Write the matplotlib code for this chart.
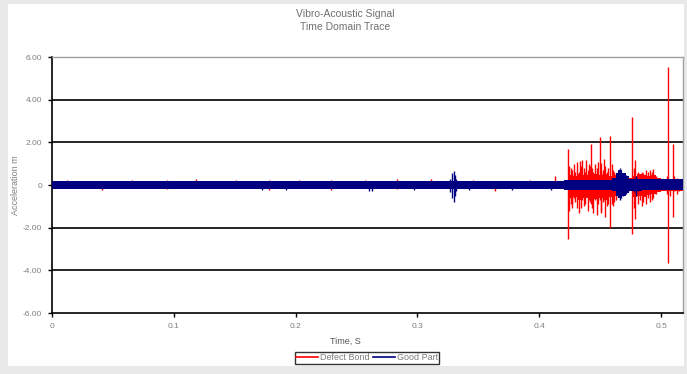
import matplotlib
matplotlib.use("Agg")
import matplotlib.pyplot as plt
from matplotlib.patches import Rectangle

plt.rcParams["font.family"] = ["Liberation Sans", "DejaVu Sans"]

# ---- data (time in s, acceleration) ----
# dense noise floor as step envelopes: edges, upper, lower
good_band_t = [0.0, 0.42, 0.46, 0.463, 0.465, 0.468, 0.471, 0.474, 0.476,
               0.484, 0.518]
good_band_hi = [0.17, 0.22, 0.35, 0.55, 0.68, 0.55, 0.4, 0.3, 0.28, 0.26]
good_band_lo = [-0.17, -0.22, -0.3, -0.5, -0.62, -0.5, -0.38, -0.3, -0.28,
                -0.24]

defect_band_t = [0.0, 0.4236, 0.428, 0.432, 0.436, 0.44, 0.444, 0.448, 0.452,
                 0.456, 0.46, 0.464, 0.468, 0.472, 0.476, 0.48, 0.484, 0.488,
                 0.492, 0.496, 0.5, 0.504, 0.508, 0.512, 0.518]
defect_band_hi = [0.12, 0.45, 0.4, 0.5, 0.45, 0.45, 0.5, 0.45, 0.5, 0.4, 0.45,
                  0.35, 0.3, 0.35, 0.4, 0.5, 0.45, 0.4, 0.45, 0.35, 0.3, 0.25,
                  0.3, 0.3]
defect_band_lo = [-0.12, -0.6, -0.55, -0.7, -0.6, -0.55, -0.65, -0.6, -0.7,
                  -0.55, -0.5, -0.35, -0.4, -0.3, -0.55, -0.5, -0.55, -0.45,
                  -0.4, -0.35, -0.3, -0.3, -0.3, -0.3]

# individual spikes: time, peak, trough
defect_spike_t = [0.012, 0.041, 0.066, 0.094, 0.118, 0.151, 0.178, 0.203,
                  0.229, 0.257, 0.283, 0.311, 0.346, 0.364, 0.392, 0.413,
                  0.4236, 0.4245, 0.4258, 0.4265, 0.427, 0.4282, 0.429, 0.431,
                  0.4325, 0.4337, 0.4345, 0.435, 0.4365, 0.4375, 0.4387, 0.44,
                  0.4405, 0.4415, 0.4428, 0.443, 0.4445, 0.446, 0.4475,
                  0.4485, 0.4497, 0.4505, 0.451, 0.4525, 0.4532, 0.454,
                  0.4555, 0.4565, 0.4579, 0.4595, 0.4605, 0.461, 0.463,
                  0.4765, 0.4775, 0.479, 0.481, 0.483, 0.4845, 0.485, 0.4875,
                  0.4895, 0.4908, 0.4925, 0.4936, 0.496, 0.5045, 0.5059,
                  0.5075, 0.5095, 0.5105, 0.5128, 0.515]
defect_spike_hi = [0.25, 0.1, 0.24, 0.22, 0.26, 0.24, 0.25, 0.23, 0.25, 0.22,
                   0.26, 0.3, 0.22, 0.1, 0.24, 0.4,
                   1.67, 0.9, 0.8, 0.7, 0.5, 1.0, 0.6, 1.09,
                   0.6, 1.13, 0.9, 1.17, 0.8, 0.6, 1.15, 0.7,
                   1.0, 0.9, 1.92, 0.8, 0.62, 1.0, 0.8,
                   1.1, 2.23, 0.6, 1.03, 0.7, 1.2, 0.9,
                   0.6, 0.8, 2.3, 1.0, 0.7, 0.6, 0.5,
                   3.18, 0.8, 1.17, 0.6, 0.5, 0.6, 0.55, 0.7,
                   0.6, 0.7, 0.6, 0.74, 0.4, 0.4, 5.51,
                   0.3, 1.92, 0.4, 0.33, 0.3]
defect_spike_lo = [-0.1, -0.22, -0.1, -0.2, -0.1, -0.1, -0.22, -0.1, -0.24,
                   -0.1, -0.2, -0.1, -0.1, -0.3, -0.1, -0.1,
                   -2.55, -1.2, -0.9, -0.9, -1.1, -0.6, -0.8, -1.07,
                   -1.3, -0.6, -1.1, -0.7, -1.0, -0.9, -0.55, -1.2,
                   -0.7, -0.8, -0.9, -1.1, -1.3, -0.7, -1.4,
                   -0.9, -0.7, -1.2, -1.3, -0.8, -0.7, -1.5,
                   -1.0, -0.9, -2.02, -0.9, -1.0, -0.8, -0.7,
                   -2.3, -1.1, -1.6, -0.9, -0.7, -1.0, -0.8, -0.9,
                   -0.6, -0.78, -0.7, -0.6, -0.4, -0.44, -3.66,
                   -0.5, -1.48, -0.3, -0.4, -0.3]

good_spike_t = [0.172, 0.192, 0.26, 0.263, 0.297, 0.327, 0.3285, 0.3296,
                0.3305, 0.332, 0.342, 0.378, 0.41, 0.4645, 0.466, 0.4675,
                0.469, 0.471, 0.473, 0.478, 0.4795, 0.481]
good_spike_hi = [0.15, 0.15, 0.15, 0.15, 0.15, 0.3, 0.55, 0.65,
                 0.45, 0.3, 0.15, 0.15, 0.15, 0.6, 0.78, 0.65,
                 0.55, 0.45, 0.35, 0.35, 0.4, 0.3]
good_spike_lo = [-0.25, -0.22, -0.3, -0.3, -0.25, -0.35, -0.6, -0.78,
                 -0.5, -0.3, -0.25, -0.25, -0.25, -0.55, -0.72, -0.6,
                 -0.5, -0.42, -0.32, -0.35, -0.5, -0.3]

RED = "#ff0000"
NAVY = "#000080"
GREY = "#7f7f7f"

fig = plt.figure(figsize=(6.87, 3.74), dpi=100, facecolor="#e9e9e9")
fig.patches.append(Rectangle((8 / 687, 8 / 374), 676 / 687, 362 / 374,
                             transform=fig.transFigure, facecolor="white",
                             edgecolor="none", zorder=-5))

ax = fig.add_axes([52 / 687, 1 - 313 / 374, 631 / 687, 256 / 374])
ax.set_zorder(2)
ax.set_facecolor("white")

for y in [-4, -2, 0, 2, 4]:
    ax.axhline(y, color="black", lw=1.2, zorder=1)


def draw_series(t, hi, lo, st, shi, slo, color, z):
    ax.fill_between(t, hi + hi[-1:], lo + lo[-1:], step="post",
                    color=color, lw=0, zorder=z)
    ax.vlines(st, slo, shi, color=color, lw=1.0, zorder=z)


draw_series(defect_band_t, defect_band_hi, defect_band_lo,
            defect_spike_t, defect_spike_hi, defect_spike_lo, RED, 2)
draw_series(good_band_t, good_band_hi, good_band_lo,
            good_spike_t, good_spike_hi, good_spike_lo, NAVY, 3)

ax.set_xlim(0, 0.518)
ax.set_ylim(-6, 6)
ax.set_yticks([-6, -4, -2, 0, 2, 4, 6])
ax.set_yticklabels(["-6.00", "-4.00", "-2.00", "0", "2.00", "4.00", "6.00"])
ax.set_xticks([0, 0.1, 0.2, 0.3, 0.4, 0.5])
ax.set_xticklabels(["0", "0.1", "0.2", "0.3", "0.4", "0.5"])
ax.tick_params(labelsize=6, labelcolor=GREY, length=3, width=1,
               color="black", direction="out", pad=4)

for side in ["top", "right"]:
    ax.spines[side].set_color("#a0a0a0")
    ax.spines[side].set_linewidth(1.0)
for side in ["left", "bottom"]:
    ax.spines[side].set_color("black")
    ax.spines[side].set_linewidth(1.2)

ax.set_ylabel("Acceleration m", fontsize=6.5, color=GREY, labelpad=2)
fig.text(345 / 687, 1 - 341 / 374, "Time, S", ha="center", va="center",
         fontsize=6.5, color="#555555")

fig.text(345 / 687, 1 - 14 / 374, "Vibro-Acoustic Signal", ha="center",
         va="center", fontsize=7.5, color="#707070")
fig.text(345 / 687, 1 - 27 / 374, "Time Domain Trace", ha="center",
         va="center", fontsize=7.5, color="#707070")

red_h, = ax.plot([], [], color=RED, lw=1.2, label="Defect Bond")
blue_h, = ax.plot([], [], color=NAVY, lw=1.2, label="Good Part")
leg = fig.legend(handles=[red_h, blue_h], loc="center",
                 bbox_to_anchor=(367 / 687, 1 - 358 / 374), ncol=2,
                 fontsize=6.5, frameon=True, fancybox=False,
                 handlelength=2.4, handletextpad=0.2, columnspacing=0.4,
                 borderpad=0.2, borderaxespad=0)
leg.get_frame().set_edgecolor("black")
leg.get_frame().set_linewidth(1.0)
for txt in leg.get_texts():
    txt.set_color(GREY)

fig.savefig("out.png", dpi=100, facecolor=fig.get_facecolor())
